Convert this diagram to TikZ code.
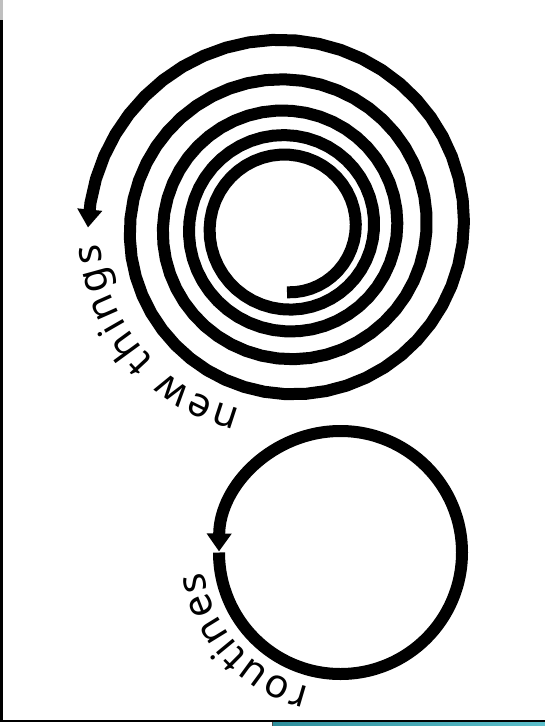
\documentclass[tikz,border=0pt]{standalone}
\usepackage{fontspec}
\setmainfont{Noto Sans}
\usetikzlibrary{arrows.meta,decorations.text}
\definecolor{tealL}{HTML}{2E8E9B}
\definecolor{tealR}{HTML}{5CBFCB}
\begin{document}
\begin{tikzpicture}[x=1pt,y=1pt,
  thickline/.style={line width=12pt, line join=round},
  tiphead/.style={-{Triangle[width=24pt,length=18pt]}},
  curvetext/.style={decorate, decoration={text along path, text={#1}, text align={fit to path}}}]
\useasboundingbox (0,0) rectangle (545,-726);
% frame remnants
\fill[gray!50] (0,0) rectangle (2.5,-20);
\fill[black] (0,-20) rectangle (2.5,-722);
\fill[black] (0,-719.5) rectangle (545,-722);
\shade[left color=tealL, right color=tealR] (273,-722) rectangle (545,-726);
\fill[black!70] (272,-722) rectangle (273.2,-726);
% centres
\coordinate (spc) at (287,-227.5);
\coordinate (routc) at (340.5,-552.5);
% spiral
\draw[thickline, tiphead] plot[domain=-90:1620, samples=241, variable=\t]
  ({287+68.75*exp(0.000657*\t)*cos(\t)}, {-227.5+68.75*exp(0.000657*\t)*sin(\t)});
% circle
\draw[thickline, tiphead] ([shift={(180:121.5)}]routc) arc[start angle=180, end angle=539.5, radius=121.5];
% texts
\path[curvetext={|\fontsize{40}{42}\selectfont|new things}] ([shift={(255.6:188)}]spc) arc[start angle=255.6, end angle=185, radius=188];
\path[curvetext={|\fontsize{40}{42}\selectfont|routines}] ([shift={(257:138)}]routc) arc[start angle=257, end angle=188, radius=138];
\end{tikzpicture}
\end{document}
